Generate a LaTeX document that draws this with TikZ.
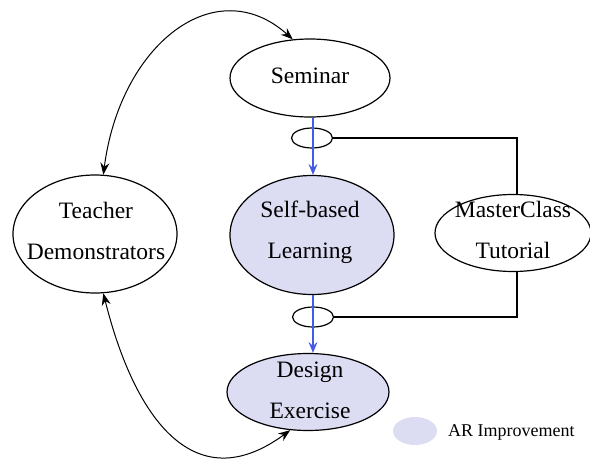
\documentclass[tikz,border=0pt]{standalone}
\usepackage{fontspec}
\setmainfont{Liberation Serif}
\usetikzlibrary{shapes.geometric,arrows.meta}
\definecolor{arfill}{RGB}{220,220,243}
\definecolor{arblue}{RGB}{70,90,230}
\tikzset{
  ell/.style={ellipse, draw=black, line width=1.2pt, inner sep=0pt},
  arell/.style={ell, fill=arfill},
  lbl/.style={align=center, inner sep=0pt, font=\fontsize{23.5}{41}\selectfont},
  knot/.style={ellipse, draw=black, line width=1.2pt, inner sep=0pt, minimum width=41pt, minimum height=20pt},
  blk/.style={draw=black, line width=1pt, {Stealth[length=12pt,width=9pt,inset=4pt]}-{Stealth[length=12pt,width=9pt,inset=4pt]}},
  blu/.style={draw=arblue, line width=1.2pt, -{Stealth[length=11pt,width=9pt,inset=4pt]}},
  wire/.style={draw=black, line width=1.2pt}
}
\begin{document}
\begin{tikzpicture}[x=1pt,y=-1pt]
\useasboundingbox (0,0) rectangle (590,464);
% main ellipses
\node[ell, minimum width=160pt, minimum height=78pt] (S) at (310,78) {};
\node[lbl] (St) at (310,76) {Seminar};
\node[arell, minimum width=164pt, minimum height=119pt] (L) at (312,235) {};
\node[lbl] (Lt) at (S.center|-0,232) {Self-based\\Learning};
\node[ell, minimum width=164pt, minimum height=118pt] (T) at (95,234) {};
\node[lbl] (Tt) at (96,231) {Teacher\\Demonstrators};
\node[ell, minimum width=156pt, minimum height=77pt] (M) at (513,233) {};
\node[lbl] (Mt) at (513,230) {MasterClass\\Tutorial};
\node[arell, minimum width=162pt, minimum height=77pt] (D) at (308,392) {};
\node[lbl] (Dt) at (310,390) {Design\\Exercise};
% knots
\node[knot] (K1) at (312,138) {};
\node[knot] (K2) at (313,317) {};
% wires to MasterClass
\draw[wire] (K1.east) -| (M.north-|517,0);
\draw[wire] (K2.east) -| ([xshift=4pt]M.south);
% blue arrows
\draw[blu] (S.south-|313,0) -- (L.north-|313,0);
\draw[blu] (L.south-|313,0) -- (D.north-|313,0);
% curves
\draw[blk] (T.82) .. controls (120,45) and (215,-30) .. (S.114);
\draw[blk] (T.-82) .. controls (135,420) and (195,500) .. (D.-115);
% legend
\node[ellipse, fill=arfill, minimum width=44pt, minimum height=28pt, inner sep=0pt] (LG) at (415,431) {};
\node[anchor=west, inner sep=0pt, font=\fontsize{18}{22}\selectfont] (LGt) at (448,432) {AR Improvement};
\end{tikzpicture}
\end{document}
